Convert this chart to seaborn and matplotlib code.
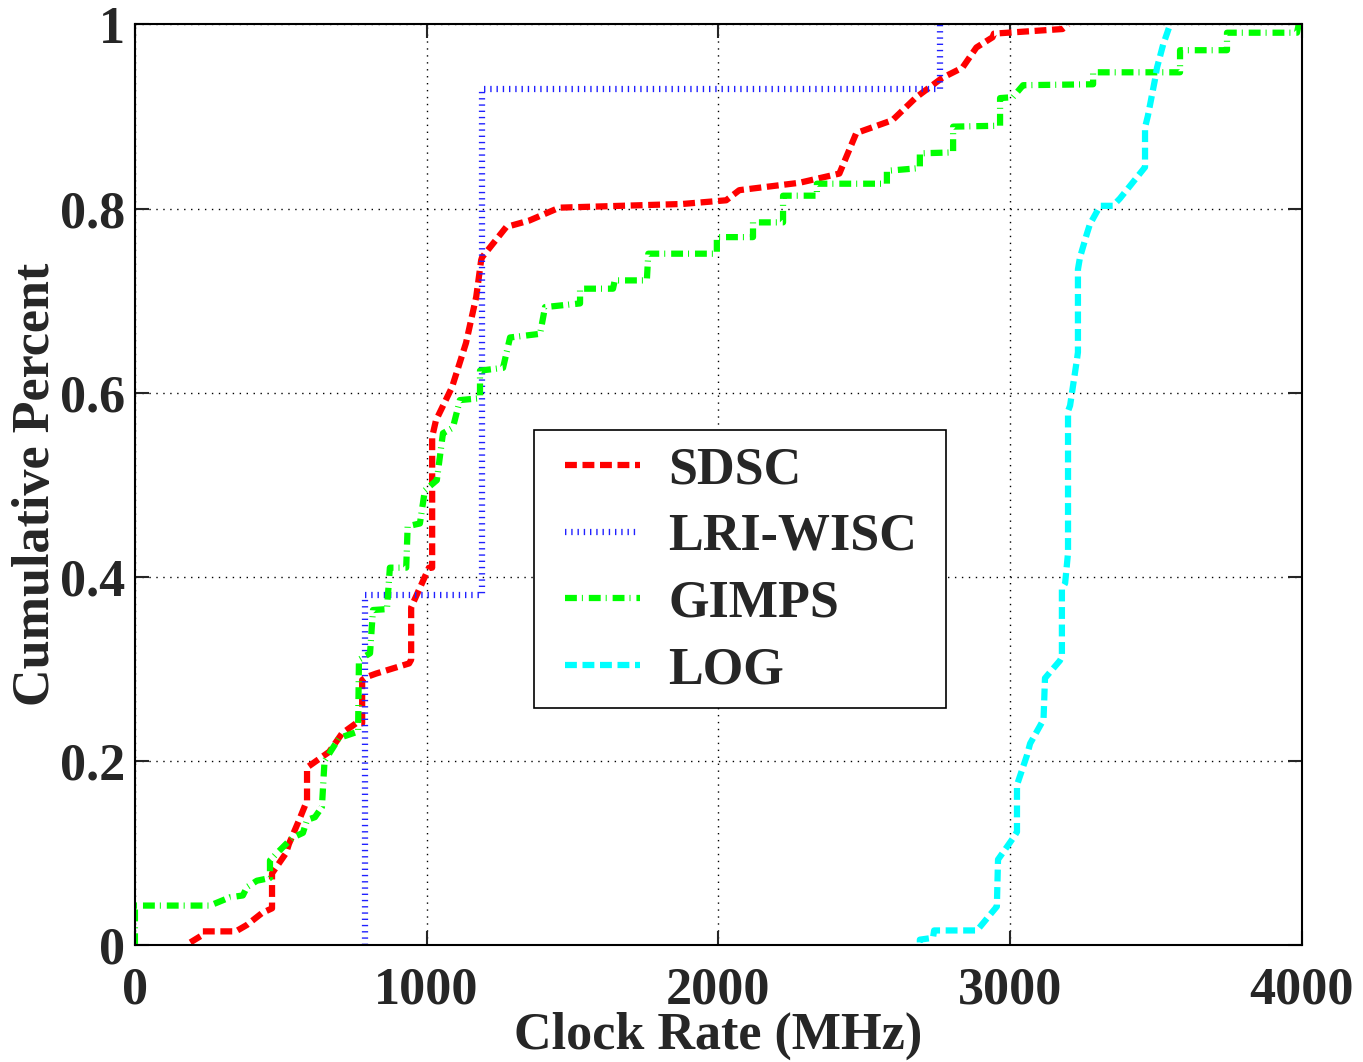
import numpy as np
import pandas as pd
import seaborn as sns
import matplotlib
matplotlib.use('Agg')
import matplotlib.pyplot as plt
from matplotlib.patches import Rectangle

# traced CDF vertices (clock rate in MHz, cumulative fraction)
sdsc_x = [190, 226, 232, 346, 384, 436, 470, 470, 518, 528, 563, 590, 590, 666, 710, 758, 779, 779,
          792, 827, 940, 947, 947, 1008, 1019, 1019, 1032, 1087, 1135, 1170, 1187, 1190, 1273, 1352,
          1455, 1877, 2027, 2072, 2278, 2415, 2473, 2597, 2679, 2768, 2837, 2885, 2940, 2945, 3180, 3200]
sdsc_y = [0.003, 0.01, 0.015, 0.015, 0.022, 0.035, 0.04, 0.078, 0.1, 0.11, 0.136, 0.157, 0.193, 0.21,
          0.23, 0.241, 0.241, 0.288, 0.291, 0.295, 0.306, 0.31, 0.367, 0.41, 0.41, 0.552, 0.57, 0.606,
          0.654, 0.704, 0.744, 0.747, 0.78, 0.787, 0.801, 0.805, 0.809, 0.82, 0.828, 0.838, 0.882, 0.896,
          0.921, 0.942, 0.953, 0.975, 0.986, 0.99, 0.995, 1.0]

lri_x = [790, 790, 1190, 1190, 2760, 2760]
lri_y = [0.0, 0.38, 0.38, 0.93, 0.93, 1.0]

gimps_x = [0, 0, 257, 326, 370, 384, 418, 463, 463, 487, 531, 542, 576, 590, 617, 641, 650, 700, 765,
           768, 806, 816, 864, 874, 930, 935, 977, 994, 1035, 1056, 1090, 1114, 1183, 1183, 1262, 1286,
           1389, 1406, 1526, 1526, 1639, 1645, 1755, 1760, 1995, 1995, 2119, 2119, 2222, 2222, 2338,
           2338, 2578, 2578, 2691, 2691, 2805, 2805, 2966, 2966, 3010, 3045, 3285, 3285, 3583, 3583,
           3744, 3744, 3984, 3990]
gimps_y = [0.0, 0.043, 0.043, 0.052, 0.054, 0.063, 0.07, 0.073, 0.092, 0.1, 0.114, 0.117, 0.122, 0.136,
           0.139, 0.15, 0.2, 0.225, 0.232, 0.31, 0.317, 0.364, 0.365, 0.41, 0.41, 0.455, 0.458, 0.494,
           0.505, 0.556, 0.562, 0.592, 0.594, 0.624, 0.627, 0.66, 0.664, 0.693, 0.697, 0.713, 0.713,
           0.722, 0.722, 0.751, 0.751, 0.769, 0.769, 0.785, 0.785, 0.814, 0.814, 0.827, 0.827, 0.841,
           0.844, 0.86, 0.861, 0.889, 0.89, 0.92, 0.921, 0.934, 0.935, 0.948, 0.948, 0.972, 0.972,
           0.991, 0.991, 1.0]

log_x = [2691, 2691, 2736, 2740, 2887, 2955, 2959, 3010, 3024, 3024, 3058, 3069, 3115, 3120, 3171,
         3178, 3178, 3189, 3199, 3199, 3206, 3230, 3233, 3233, 3240, 3264, 3274, 3309, 3353, 3377,
         3463, 3463, 3473, 3497, 3504, 3525, 3549]
log_y = [0.003, 0.006, 0.008, 0.016, 0.016, 0.042, 0.093, 0.116, 0.123, 0.174, 0.206, 0.219, 0.245,
         0.29, 0.309, 0.313, 0.387, 0.393, 0.426, 0.58, 0.586, 0.637, 0.644, 0.734, 0.747, 0.773,
         0.783, 0.803, 0.803, 0.811, 0.845, 0.888, 0.901, 0.94, 0.953, 0.978, 1.0]

x_ticks = [0, 1000, 2000, 3000, 4000]
y_ticks = [0, 0.2, 0.4, 0.6, 0.8, 1]
y_tick_labels = ['0', '0.2', '0.4', '0.6', '0.8', '1']

sns.set_style('ticks')
plt.rcParams['font.family'] = ['Liberation Serif', 'DejaVu Serif']
plt.rcParams['font.weight'] = 'bold'
FS = 37.5

fig = plt.figure(figsize=(13.63, 10.62), dpi=100)
ax = fig.add_axes([0.099, 0.110, 0.856, 0.867])

series = [
    ('SDSC', sdsc_x, sdsc_y, '#ff0000', (0, (1.9, 0.9))),
    ('LRI-WISC', lri_x, lri_y, '#2020ff', (0, (0.22, 0.78))),
    ('GIMPS', gimps_x, gimps_y, '#00ff00', (0, (1.9, 0.8, 0.16, 0.95))),
    ('LOG', log_x, log_y, '#00ffff', (0, (1.9, 0.9))),
]

for name, xs, ys, col, ls in series:
    sns.lineplot(x=xs, y=ys, sort=False, estimator=None, color=col, linewidth=4.5,
                 linestyle=ls, dash_capstyle='butt', label=name, ax=ax)

ax.set_xlim(0, 4000)
ax.set_ylim(0, 1)
ax.set_xticks(x_ticks)
ax.set_yticks(y_ticks)
ax.set_yticklabels(y_tick_labels)
ax.grid(True, color='black', linestyle=(0, (1, 4)), linewidth=1.0)
ax.tick_params(direction='in', length=10, width=1.5, top=True, right=True, labelsize=FS)
ax.tick_params(axis='x', pad=15)
ax.tick_params(axis='y', pad=7)
for s in ax.spines.values():
    s.set_color('black')
    s.set_linewidth(1.5)

ax.set_xlabel('Clock Rate (MHz)', fontsize=FS, fontweight='bold', labelpad=-2)
ax.set_ylabel('Cumulative Percent', fontsize=FS, fontweight='bold', labelpad=0)

# legend frame drawn separately so the padding matches the original box
ax.add_patch(Rectangle((0.342, 0.258), 0.353, 0.301, transform=ax.transAxes, facecolor='white',
                       edgecolor='black', linewidth=1.2, zorder=4))
leg = ax.legend(loc='upper left', bbox_to_anchor=(0.3685, 0.542), fontsize=FS, frameon=False,
                handlelength=1.45, handletextpad=0.54, borderpad=0, borderaxespad=0,
                labelspacing=0.36)
leg.set_zorder(5)

fig.savefig('out.png', dpi=100)
